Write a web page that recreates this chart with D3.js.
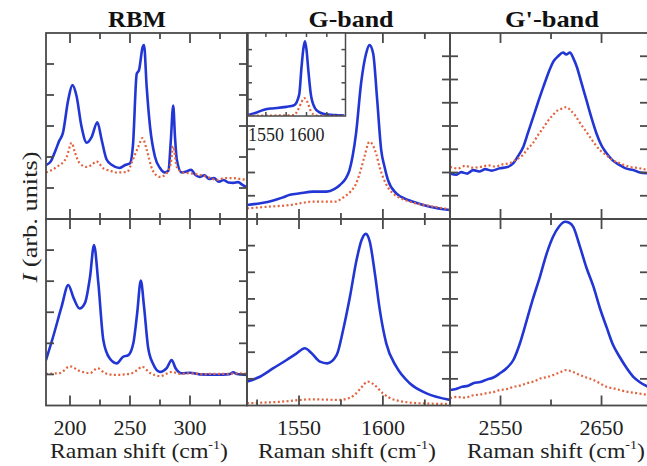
<!DOCTYPE html>
<html>
<head>
<meta charset="utf-8">
<script src="https://cdn.jsdelivr.net/npm/d3@7"></script>
<style>
  body { margin: 0; background: #fff; }
  svg { display: block; }
</style>
</head>
<body>
<svg id="chart" width="647" height="466"></svg>
<script>
// ---- data (Raman shift in cm-1, intensity in arb. units 0..100) ----
const panelTitles = ['RBM', 'G-band', "G'-band"];

const rbmMajor = [200, 250, 300];
const rbmMinor = [225, 275, 325];
const gMajor = [1550, 1600];
const gMinor = [1525, 1575, 1625];
const gpMajor = [2550, 2650];
const gpMinor = [2600];
const insetTicks = [1550, 1575, 1600, 1625];
const insetLabels = [1550, 1600];

// RBM, upper sample
const rbmTopBlue = [[180,29],[184,31],[188,37],[191,42],[194,46],[198.5,64],[202,72],[205.5,66],[209.5,50],[214,41],[218,44],[222.8,52],[226.4,42.5],[230.5,32],[235,29],[241,27.4],[246,29],[250,30],[252.5,40],[255.6,78],[257.5,80],[260.6,92.6],[261.7,93.5],[263.9,71],[266.7,49.6],[270.8,33.5],[275,27.4],[279,25],[282,26],[284,42],[286,61],[287.5,44],[289,32],[293,25],[297,25.5],[301,26.5],[304,24],[308,22.6],[312,23.5],[316,21.5],[320,22],[324,20],[328,21],[332,19.6],[336,19.4],[340,19.8],[344,18.2],[347.5,17]];
const rbmTopRed = [[180,25],[189,28],[197,33],[201.4,41],[204,36],[208,30],[214,28],[218,29],[222,31],[227.5,27.4],[233,26],[239,25],[247.5,25.3],[252.5,32],[257,39],[260.5,43.5],[264,37],[269,26],[275,22.6],[281,25],[284,30],[286,39],[289,28],[294,25],[301,24.5],[308,23.7],[315,22.5],[322.5,21],[329,22],[336,22],[342,21.5],[347.5,21]];
// RBM, lower sample
const rbmBotBlue = [[180,24.4],[186,37],[193,53],[198.6,64.6],[202.8,58],[208,52],[212.5,55],[216.7,69],[220,86],[223.6,65.7],[227.8,35],[233,25.3],[239,22.6],[244,26],[248.6,27],[252.8,33.5],[256,49.6],[259,67],[261.7,53],[265,31.5],[269,22.6],[275,18],[280.6,20],[284.7,24.4],[288,20],[293,17.3],[300,17.6],[308,16.7],[322,16.5],[333,16.8],[336,17.8],[339,16.9],[347.5,16.4]];
const rbmBotRed = [[180,17],[191.7,17.4],[200,21],[208,18.5],[216.7,17.4],[223,20],[229,17.4],[237.5,16.4],[250,17],[256,19],[260,20.8],[266.7,17.4],[275,15.8],[285,18],[291.7,17],[300,17.3],[310,16.8],[320,17],[330,16.9],[340,17.2],[347.5,17]];

// G-band
const gTopBlue = [[1519,7.5],[1527,8.5],[1534.7,10],[1540,11.5],[1544.6,13],[1550.5,13.8],[1558.5,14.7],[1566.4,14.7],[1571,16],[1574.4,18.3],[1578,22],[1580,26],[1582,34],[1584,46],[1587,73],[1590,89],[1592,93.5],[1594.2,89],[1596.6,64],[1599,37],[1601,28],[1603,21],[1608,13.8],[1613,11],[1618,9.3],[1628,6.6],[1640,4.8]];
const gTopRed = [[1519,5.7],[1530,6.5],[1544.6,7.5],[1558,9.3],[1571.4,9.3],[1577,12],[1581,15],[1584,19],[1587,27],[1589,33.5],[1592,41.5],[1596,35],[1598,28],[1600,22.7],[1603,17],[1606,13.8],[1611,11],[1616,9.3],[1628,7],[1640,5.2]];
const gBotBlue = [[1519,12.8],[1526.7,15.4],[1534.7,20],[1542.6,24.4],[1548.6,28],[1553.5,30.7],[1557.5,28],[1562.5,23.5],[1566.8,22.6],[1572.4,27],[1576.3,40.5],[1580.3,58],[1584.3,78],[1587.3,88.7],[1589.8,92],[1592.2,87.8],[1595.2,70.9],[1598.2,51],[1602,33.3],[1608,20.8],[1616,11.9],[1626,6.5],[1640,3]];
const gBotRed = [[1519,1.2],[1538.6,2],[1558,3.3],[1574,3],[1580,4],[1583,5.6],[1587,9.5],[1591,12.8],[1595,11],[1600,6.5],[1607,3],[1622,1.2],[1640,0.8]];
// G-band inset
const insetBlue = [[1528,1],[1538,4],[1547.8,7.6],[1556,9],[1563.8,9.6],[1575,11],[1584.8,13],[1591,25.7],[1593.8,58],[1596,80],[1598,90],[1600,80],[1602,58],[1605.4,25.7],[1610.3,9.6],[1615,5],[1621.8,2.4],[1635,1],[1646.5,0.5]];
const insetRed = [[1528,0.5],[1550,0.5],[1570,0.8],[1584.8,1],[1588.9,6.4],[1593,14.5],[1597,21.7],[1601,17],[1605.4,5.7],[1611.6,0.5],[1646.5,0]];

// G'-band (noisy traces, read point by point)
const gpTopBlue = [[2500,24.6],[2506,23.8],[2511,25.2],[2517,24.4],[2523,26.3],[2529,25.5],[2535,26.8],[2541,26],[2549.5,27.3],[2556,27.8],[2562.7,30],[2567,33.5],[2572.6,38.9],[2577,46],[2582.5,55],[2587,62.5],[2592.4,71],[2597,78],[2602.3,84.6],[2607,87.5],[2612,89.5],[2615,88.5],[2618.8,89.5],[2622,86.5],[2625.4,82],[2630,73.5],[2635,64],[2640,54.5],[2645,46],[2650,39.5],[2655,35.3],[2661,31.5],[2668,29],[2674,27.2],[2681.5,26.3],[2688,25],[2696,24.6]];
const gpTopRed = [[2500,28],[2508,27.2],[2515,28.6],[2522,27.6],[2530,28],[2538,28.8],[2545,28.2],[2552,29.4],[2559,30],[2565,31.8],[2572,34.4],[2577,37.8],[2582,40.7],[2587,45],[2592,48.8],[2597,52.8],[2602,56],[2607,58.6],[2612,59.5],[2615,60.2],[2619,58.6],[2624,55.6],[2629,51.4],[2634,47.6],[2638.6,44],[2643,40.6],[2648.5,37],[2654,34.6],[2661,31.7],[2668,30],[2678,28],[2686,27.4],[2696,26.3]];
const gpBotBlue = [[2500,8.3],[2506,8.9],[2512,10],[2518,10.6],[2523,11.9],[2530,12.6],[2537,14],[2543,15],[2549.5,17.3],[2556,20],[2562.7,24.4],[2569,33],[2576,45.8],[2582,57],[2589,69],[2596,82],[2602,90.5],[2608,96],[2614,98.5],[2618,98],[2622,95.8],[2628.7,85],[2635,74],[2642,63.7],[2648.5,52],[2655,42],[2661,33],[2668,26],[2675,20],[2681.5,15.4],[2688,12.5],[2696,10]];
const gpBotRed = [[2500,3.9],[2507,4.6],[2514,4.2],[2523,5.5],[2530,5.9],[2537,6.7],[2543,7.2],[2549.5,8.3],[2556,8.8],[2563,10],[2570,10.8],[2576,11.9],[2583,12.9],[2590,14.6],[2596,15.2],[2602,16.3],[2608,17.6],[2615,19],[2621,18.1],[2628.7,16.3],[2635,15],[2642,13.7],[2648,12],[2655,10],[2662,9.2],[2668,8.3],[2675,7.4],[2685,6.6],[2696,5.6]];

// ---- layout ----
const FONT = "'Liberation Serif', 'DejaVu Serif', serif";
const AXIS = '#4a4a4a';
const BLUE = '#2136d4';
const RED = '#e2643e';

const rows = [{ y0: 33, y1: 219 }, { y0: 219, y1: 405.5 }];
const columns = [
    { x0: 46,  x1: 247, domain: [180, 347.5], majors: rbmMajor, minors: rbmMinor,
      yDiv: [6, 6], series: [[rbmTopBlue, rbmTopRed], [rbmBotBlue, rbmBotRed]],
      titleX: 137, titleW: 58, labelX: 139 },
    { x0: 247, x1: 450, domain: [1519, 1640], majors: gMajor, minors: gMinor,
      yDiv: [8, 7], series: [[gTopBlue, gTopRed], [gBotBlue, gBotRed]],
      titleX: 351, titleW: 85, labelX: 347 },
    { x0: 450, x1: 648, domain: [2500, 2696], majors: gpMajor, minors: gpMinor,
      yDiv: [8, 7], series: [[gpTopBlue, gpTopRed], [gpBotBlue, gpBotRed]],
      titleX: 552, titleW: 94, labelX: 556 }
];

const svg = d3.select('#chart');
const defs = svg.append('defs');

function drawCurves(g, x, y, blue, red, clipId) {
    const line = d3.line()
        .x(d => x(d[0]))
        .y(d => y(d[1]))
        .curve(d3.curveMonotoneX);

    const cg = g.append('g').attr('clip-path', `url(#${clipId})`);
    cg.append('path')
        .attr('d', line(blue))
        .attr('fill', 'none')
        .attr('stroke', BLUE)
        .attr('stroke-width', 2.6)
        .attr('stroke-linejoin', 'round');
    cg.append('path')
        .attr('d', line(red))
        .attr('fill', 'none')
        .attr('stroke', RED)
        .attr('stroke-width', 2.2)
        .attr('stroke-dasharray', '2,2.4');
}

function drawFrame(g, x, y, xMajors, xMinors, yValues, majorLen, minorLen, yLen, sw) {
    const [xa, xb] = x.range();
    const [yb, ya] = y.range();
    const ticks = g.append('g').attr('stroke', AXIS).attr('stroke-width', sw);

    const xTicks = xMajors.map(v => [v, majorLen]).concat(xMinors.map(v => [v, minorLen]));
    xTicks.forEach(([v, len]) => {
        ticks.append('line').attr('x1', x(v)).attr('x2', x(v)).attr('y1', ya).attr('y2', ya + len);
        ticks.append('line').attr('x1', x(v)).attr('x2', x(v)).attr('y1', yb).attr('y2', yb - len);
    });
    yValues.forEach(v => {
        ticks.append('line').attr('x1', xa).attr('x2', xa + yLen).attr('y1', y(v)).attr('y2', y(v));
        ticks.append('line').attr('x1', xb).attr('x2', xb - yLen).attr('y1', y(v)).attr('y2', y(v));
    });

    g.append('rect')
        .attr('x', xa).attr('y', ya)
        .attr('width', xb - xa).attr('height', yb - ya)
        .attr('fill', 'none')
        .attr('stroke', AXIS)
        .attr('stroke-width', sw);
}

columns.forEach((col, ci) => {
    const x = d3.scaleLinear().domain(col.domain).range([col.x0, col.x1]);

    rows.forEach((row, ri) => {
        const y = d3.scaleLinear().domain([0, 100]).range([row.y1, row.y0]);
        const g = svg.append('g').attr('class', `panel-${ci}-${ri}`);
        const clipId = `clip-${ci}-${ri}`;

        defs.append('clipPath').attr('id', clipId)
            .append('rect')
            .attr('x', col.x0).attr('y', row.y0)
            .attr('width', col.x1 - col.x0).attr('height', row.y1 - row.y0);

        const [blue, red] = col.series[ri];
        drawCurves(g, x, y, blue, red, clipId);

        const n = col.yDiv[ri];
        const yValues = d3.range(1, n).map(i => i * 100 / n);
        drawFrame(g, x, y, col.majors, col.minors, yValues, 10, 6, 8, 1.8);
    });

    // 패널 제목
    svg.append('text')
        .attr('x', col.titleX)
        .attr('y', 27)
        .attr('text-anchor', 'middle')
        .style('font-family', FONT)
        .attr('font-weight', 'bold')
        .attr('font-size', 24)
        .attr('textLength', col.titleW)
        .attr('lengthAdjust', 'spacingAndGlyphs')
        .attr('fill', '#111')
        .text(panelTitles[ci]);

    // tick labels (bottom row only)
    svg.append('g')
        .selectAll('text')
        .data(col.majors)
        .join('text')
        .attr('x', d => x(d))
        .attr('y', 435)
        .attr('text-anchor', 'middle')
        .style('font-family', FONT)
        .attr('font-size', 22)
        .attr('fill', '#222')
        .text(d => d);

    // x axis label
    const lab = svg.append('text')
        .attr('x', col.labelX)
        .attr('y', 458)
        .attr('text-anchor', 'middle')
        .style('font-family', FONT)
        .attr('font-size', 22)
        .attr('fill', '#222')
        .attr('textLength', 178)
        .attr('lengthAdjust', 'spacingAndGlyphs');
    lab.append('tspan').text('Raman shift (cm');
    lab.append('tspan').attr('font-size', 13).attr('dy', -9).text('-1');
    lab.append('tspan').attr('dy', 9).text(')');
});

// ---- G-band inset ----
{
    const ix = d3.scaleLinear().domain([1528, 1648]).range([248, 345.5]);
    const iy = d3.scaleLinear().domain([0, 100]).range([116, 33]);
    const g = svg.append('g').attr('class', 'inset');

    g.append('rect')
        .attr('x', 248).attr('y', 33)
        .attr('width', 345.5 - 248).attr('height', 116 - 33)
        .attr('fill', '#fff');

    defs.append('clipPath').attr('id', 'clip-inset')
        .append('rect')
        .attr('x', 248).attr('y', 33)
        .attr('width', 345.5 - 248).attr('height', 116 - 33);

    drawCurves(g, ix, iy, insetBlue, insetRed, 'clip-inset');
    drawFrame(g, ix, iy, insetTicks, [], [20, 40, 60, 80], 4, 4, 4, 1.5);

    g.selectAll('text.inset-label')
        .data(insetLabels)
        .join('text')
        .attr('class', 'inset-label')
        .attr('x', d => ix(d))
        .attr('y', 141)
        .attr('text-anchor', 'middle')
        .style('font-family', FONT)
        .attr('font-size', 18)
        .attr('fill', '#222')
        .text(d => d);
}

// ---- y axis label ----
{
    const t = svg.append('text')
        .attr('transform', 'translate(37,217) rotate(-90)')
        .attr('text-anchor', 'middle')
        .style('font-family', FONT)
        .attr('font-size', 22)
        .attr('fill', '#222')
        .attr('textLength', 131)
        .attr('lengthAdjust', 'spacingAndGlyphs');
    t.append('tspan').attr('font-style', 'italic').text('I');
    t.append('tspan').text(' (arb. units)');
}
</script>
</body>
</html>
